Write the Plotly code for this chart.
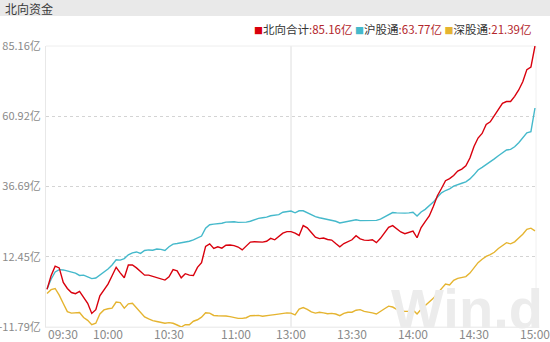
import plotly.graph_objects as go

# Northbound capital flow, cumulative net inflow (亿元), sampled every 2 trading minutes
MINUTES = list(range(0, 241, 2))

NORTH_TOTAL = [
    1.2, 5.9, 9.2, 8.6, 3.6, 1.5, 0.1, -0.3, 0.5, -1.6,
    -3.6, -7.1, -5.8, -1.0, 1.0, 3.0, 5.9, 8.8, 6.9, 5.2,
    9.6, 9.6, 8.6, 7.3, 6.1, 6.1, 5.7, 5.2, 4.8, 4.4,
    5.5, 8.0, 7.6, 5.2, 6.6, 6.1, 6.0, 8.8, 10.4, 16.0,
    16.9, 15.3, 15.9, 15.4, 16.4, 16.5, 16.3, 15.8, 14.8, 16.1,
    17.5, 17.6, 17.6, 17.5, 17.8, 18.8, 18.3, 19.3, 20.6, 21.1,
    21.1, 20.6, 19.8, 23.2, 22.4, 20.8, 19.2, 18.7, 18.9, 18.4,
    18.2, 17.0, 15.9, 17.0, 17.7, 18.3, 19.7, 18.6, 18.2, 18.1,
    18.3, 17.3, 18.8, 20.8, 22.6, 23.2, 22.2, 21.0, 20.4, 20.9,
    21.3, 19.0, 22.5, 24.6, 26.5, 29.8, 33.5, 36.0, 38.7, 39.4,
    40.5, 42.0, 42.7, 43.8, 46.5, 50.5, 53.4, 55.0, 58.1, 59.0,
    61.0, 63.3, 65.4, 66.0, 66.0, 67.8, 70.0, 72.8, 77.0, 77.9,
    85.16,
]

SH_CONNECT = [
    1.3, 4.7, 7.2, 8.0, 7.9, 7.5, 7.3, 6.8, 6.0, 6.1,
    5.5, 4.9, 5.1, 6.1, 7.1, 8.2, 9.6, 11.4, 11.3, 11.8,
    13.1, 13.8, 14.1, 13.6, 14.6, 14.8, 14.7, 15.1, 15.0, 14.6,
    15.9, 16.8, 17.0, 17.2, 17.6, 17.8, 18.3, 19.0, 19.6, 22.3,
    23.5, 23.7, 23.8, 24.0, 24.4, 24.5, 24.5, 24.3, 24.3, 24.4,
    24.7, 25.2, 25.7, 25.9, 26.1, 26.6, 26.7, 27.0, 27.8, 28.0,
    28.2, 27.6, 28.3, 28.3, 27.6, 26.9, 26.3, 25.9, 25.6, 25.5,
    25.2, 24.7, 24.1, 24.4, 24.7, 25.1, 25.2, 24.9, 24.9, 24.9,
    24.9, 25.0, 25.4, 26.2, 27.0, 27.7, 27.6, 27.5, 27.5, 27.6,
    27.8, 26.5, 27.9, 28.8, 29.9, 31.3, 33.0, 34.5, 35.3, 35.9,
    36.8, 37.4, 37.8, 38.3, 39.3, 40.7, 42.4, 43.3, 44.2, 45.3,
    46.2, 47.3, 48.4, 49.3, 49.5, 50.4, 51.8, 53.4, 55.2, 55.6,
    63.77,
]

SZ_CONNECT = [
    -0.2, 1.1, 1.5, -0.8, -3.7, -6.5, -7.0, -6.9, -6.8, -8.5,
    -9.5, -11.0, -10.5, -7.3, -5.9, -5.5, -5.3, -3.2, -3.4, -5.3,
    -3.8, -3.6, -5.3, -7.0, -8.3, -9.0, -9.6, -9.9, -10.2, -10.5,
    -10.3, -10.5, -11.1, -11.79, -11.0, -11.0, -9.8, -9.3, -8.4, -6.9,
    -7.0, -7.8, -7.9, -7.9, -8.0, -8.2, -8.5, -8.8, -8.8, -8.6,
    -7.9, -7.8, -7.8, -8.1, -8.0, -7.7, -7.5, -7.3, -7.1, -6.9,
    -7.0, -7.6, -5.6, -5.1, -5.7, -6.6, -7.0, -6.7, -6.9, -7.2,
    -7.1, -7.3, -7.9, -7.1, -6.7, -6.7, -6.0, -5.8, -6.4, -6.6,
    -6.9, -7.3, -6.5, -5.5, -4.6, -4.9, -5.7, -6.2, -6.4, -6.4,
    -5.9, -7.3, -5.7, -4.5, -3.2, -1.9, -0.2, 1.5, 3.0, 2.7,
    4.3, 5.0, 5.2, 5.6, 6.8, 8.8, 10.4, 11.6, 12.6, 13.2,
    14.0, 15.3, 16.4, 17.3, 16.9, 17.6, 18.9, 20.2, 21.9, 22.3,
    21.39,
]

SERIES_NAMES = ["北向合计", "沪股通", "深股通"]
SERIES_COLORS = ["#d9000d", "#45b9cb", "#e5b430"]

X_TICK_VALS = [0, 30, 60, 90, 120, 150, 180, 210, 240]
X_TICK_TEXT = ["09:30", "10:00", "10:30", "11:00", "13:00", "13:30", "14:00", "14:30", "15:00"]
Y_TICK_VALS = [-11.79, 12.45, 36.69, 60.92, 85.16]

W, H = 550, 342
ML, MR, MT, MB = 46, 14, 46, 15
PW, PH = W - ML - MR, H - MT - MB
FONT = "Noto Sans CJK SC, Microsoft YaHei, sans-serif"


def px_x(px):
    return (px - ML) / PW


def px_y(py):
    return 1 - (py - MT) / PH


series = list(zip(SERIES_NAMES, [NORTH_TOTAL, SH_CONNECT, SZ_CONNECT], SERIES_COLORS))

fig = go.Figure()
# components first, the total last so it is drawn on top
for name, vals, color in series[1:] + series[:1]:
    fig.add_trace(go.Scatter(
        x=MINUTES, y=vals, mode="lines", name=name,
        line=dict(color=color, width=1.4), hoverinfo="skip",
    ))

shapes = [
    # header band
    dict(type="rect", xref="paper", yref="paper", x0=px_x(0), x1=px_x(W), y0=px_y(16), y1=px_y(0),
         fillcolor="#e9e9e9", line=dict(width=0), layer="below"),
    # lunch-break divider
    dict(type="line", xref="x", yref="paper", x0=120, x1=120, y0=0, y1=1,
         line=dict(color="#dedede", width=1), layer="below"),
    # frame: top, bottom, right
    dict(type="line", xref="paper", yref="paper", x0=0, x1=1, y0=1, y1=1,
         line=dict(color="#eeeeee", width=1), layer="below"),
    dict(type="line", xref="paper", yref="paper", x0=0, x1=1, y0=0, y1=0,
         line=dict(color="#eeeeee", width=1), layer="below"),
    dict(type="line", xref="paper", yref="paper", x0=1, x1=1, y0=0, y1=1,
         line=dict(color="#f0f0f0", width=1), layer="below"),
]

annotations = [
    # Wind watermark (drawn first so the time labels sit over it)
    dict(text="<b>Win.d</b>", xref="paper", yref="paper", x=px_x(545), y=px_y(342),
         xanchor="right", yanchor="bottom", showarrow=False,
         font=dict(family="Liberation Sans Narrow, Liberation Sans, Arial, sans-serif",
                   size=56, color="#ececec")),
    dict(text="北向资金", xref="paper", yref="paper", x=px_x(3), y=px_y(8),
         xanchor="left", yanchor="middle", showarrow=False,
         font=dict(family=FONT, size=12, color="#3a3a3a")),
]

legend_parts = []
for name, vals, color in series:
    legend_parts.append(
        f"<span style='color:{color};font-size:9px'>■</span><span style='color:#333333'>{name}</span>"
        f"<span style='color:#b3262b'>:{vals[-1]:.2f}亿</span>"
    )
annotations.append(dict(
    text=" ".join(legend_parts), xref="paper", yref="paper", x=px_x(534), y=px_y(29),
    xanchor="right", yanchor="middle", showarrow=False,
    font=dict(family=FONT, size=11.5, color="#333333"),
))

# time labels along the bottom
x_shift = [0, 0, 0, 6, 0, 0, 0, 0, 0]
for val, txt, sh in zip(X_TICK_VALS, X_TICK_TEXT, x_shift):
    first = val == X_TICK_VALS[0]
    annotations.append(dict(
        text=txt, xref="x", yref="paper", x=val, y=px_y(333), xshift=sh - (1 if first else 0),
        xanchor="left" if first else "center", yanchor="middle", showarrow=False,
        font=dict(family=FONT, size=12, color="#8a8a8a"),
    ))

fig.update_layout(
    width=W, height=H,
    margin=dict(l=ML, r=MR, t=MT, b=MB, autoexpand=False),
    paper_bgcolor="white", plot_bgcolor="white",
    showlegend=False,
    shapes=shapes,
    annotations=annotations,
    xaxis=dict(
        range=[-0.5, 240.5], showgrid=False, zeroline=False,
        showticklabels=False, ticks="", automargin=False,
        showline=True, linecolor="#eeeeee", linewidth=1,
    ),
    yaxis=dict(
        range=[Y_TICK_VALS[0], Y_TICK_VALS[-1]],
        tickvals=Y_TICK_VALS, ticktext=[f"{v:.2f}亿" for v in Y_TICK_VALS],
        showgrid=True, gridcolor="#d4d4d4", griddash="dot", gridwidth=1,
        zeroline=False, showline=True, linecolor="#e8e8e8", linewidth=1,
        ticks="", ticklabelstandoff=2, automargin=False,
        tickfont=dict(family=FONT, size=11, color="#8a8a8a"),
    ),
)

fig.write_html("out.html")
